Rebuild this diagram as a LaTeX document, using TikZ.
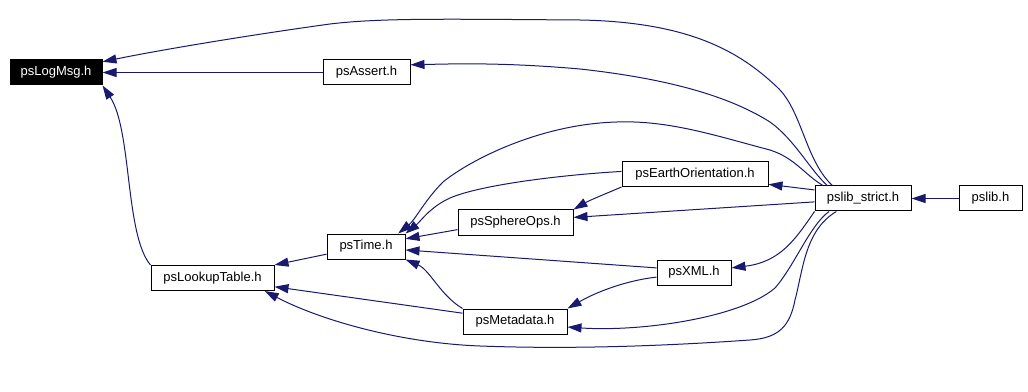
\documentclass[tikz,border=0pt]{standalone}
\usepackage{fontspec}
\setmainfont{Liberation Sans}
\usepackage{xcolor}
\usetikzlibrary{arrows.meta}
\definecolor{edgeblue}{HTML}{191970}

\tikzset{
	hfile/.style={draw=black, line width=0.75pt, rectangle, inner sep=0pt,
		minimum height=25*0.75pt, font=\fontsize{9.75}{11}\selectfont},
	curfile/.style={hfile, fill=black, text=white},
	incl/.style={draw=edgeblue, line width=0.75pt,
		-{Triangle[length=10.5pt,width=6.75pt]}}
}

\begin{document}
\begin{tikzpicture}[x=0.75pt,y=-0.75pt]
	\useasboundingbox (0,0) rectangle (1028,392);
	% files
	\node[curfile, minimum width=92*0.75pt]  (logMsg)  at (56,72.5)    {psLogMsg.h};
	\node[hfile, minimum width=87*0.75pt]    (assertH) at (366.5,72.5)  {psAssert.h};
	\node[hfile, minimum width=123*0.75pt]   (lookup)  at (212.5,278)   {psLookupTable.h};
	\node[hfile, minimum width=78*0.75pt]    (time)    at (366,246.5)   {psTime.h};
	\node[hfile, minimum width=115*0.75pt]   (sphere)  at (515.5,222.5) {psSphereOps.h};
	\node[hfile, minimum width=146*0.75pt]   (earth)   at (695,174)     {psEarthOrientation.h};
	\node[hfile, minimum width=96*0.75pt]    (strict)  at (863,198.5)   {pslib\_strict.h};
	\node[hfile, minimum width=63*0.75pt]    (pslib)   at (990.5,198.5) {pslib.h};
	\node[hfile, minimum width=74*0.75pt]    (xml)     at (694,272.5)   {psXML.h};
	\node[hfile, minimum width=104*0.75pt]   (meta)    at (515,321.5)   {psMetadata.h};

	% includes
	\draw[incl] (pslib) -- (strict);
	\draw[incl] (strict.157) .. controls (805,160) and (802,110) .. (777,87)
		.. controls (740,52) and (690,22) .. (580,20)
		.. controls (440,19) and (380,18) .. (330,24)
		.. controls (250,35) and (160,50) .. (logMsg.13);
	\draw[incl] (strict.160) .. controls (810,170) and (795,140) .. (770,122)
		.. controls (735,100) and (680,80) .. (580,69)
		.. controls (500,62) and (450,64) .. (assertH.10);
	\draw[incl] (assertH) -- (logMsg);
	\draw[incl] (lookup.north west) .. controls (125,235) and (132,130) .. (logMsg.south east);
	\draw[incl] (strict.162) .. controls (805,175) and (795,158) .. (770,150)
		.. controls (720,137) and (670,120) .. (617,122)
		.. controls (540,124) and (470,160) .. (443,182)
		.. controls (425,200) and (415,220) .. (time.22);
	\draw[incl] (earth.178) .. controls (560,175) and (480,185) .. (450,198)
		.. controls (430,207) and (420,222) .. (time.north east);
	\draw[incl] (earth.south west) .. controls (610,192) and (590,200) .. (sphere.north east);
	\draw[incl] (strict.170) -- (earth.-8);
	\draw[incl] (strict.184) -- (sphere.5);
	\draw[incl] (sphere.187) -- (time.11);
	\draw[incl] (strict.195) .. controls (795,240) and (780,262) .. (xml.7);
	\draw[incl] (xml.173) -- (time.-5);
	\draw[incl] (xml.187) .. controls (630,280) and (600,290) .. (meta.north east);
	\draw[incl] (meta.north west) .. controls (440,295) and (430,270) .. (time.south east);
	\draw[incl] (meta.171) -- (lookup.-8);
	\draw[incl] (time.191) -- (lookup.north east);
	\draw[incl] (strict.201) .. controls (810,225) and (795,265) .. (775,288)
		.. controls (740,318) and (640,332) .. (meta.-6);
	\draw[incl] (strict.206) .. controls (805,230) and (803,270) .. (795,300)
		.. controls (790,325) and (780,338) .. (750,340)
		.. controls (650,347) and (560,349) .. (480,346)
		.. controls (400,343) and (320,320) .. (lookup.-14);
\end{tikzpicture}
\end{document}
